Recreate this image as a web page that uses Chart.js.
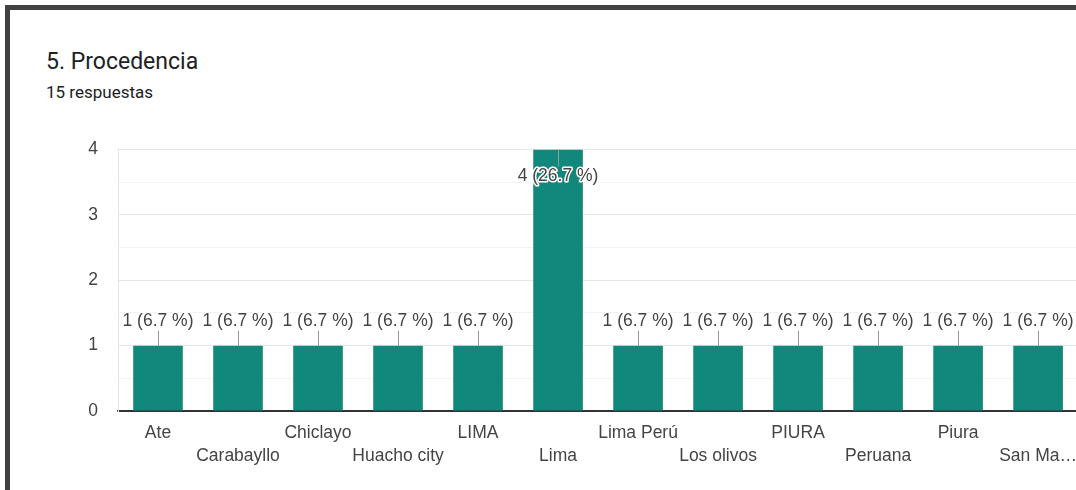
<!DOCTYPE html>
<html>
<head>
<meta charset="utf-8">
<script src="https://cdn.jsdelivr.net/npm/chart.js@4"></script>
<style>
  html, body { margin: 0; padding: 0; background: #fff; overflow: hidden; }
  .frame { position: absolute; left: 5px; top: 5px; width: 1200px; height: 600px; border: 5px solid #414141; box-sizing: border-box; }
  .title { position: absolute; left: 46px; top: 48px; font: 23px Roboto, sans-serif; color: #202124; }
  .sub { position: absolute; left: 46px; top: 82px; font: 17px Roboto, sans-serif; color: #202124; }
  .chart { position: absolute; left: 40px; top: 119px; width: 1048px; height: 371px; }
</style>
</head>
<body>
<div class="frame"></div>
<div class="title">5. Procedencia</div>
<div class="sub">15 respuestas</div>
<div class="chart"><canvas id="procedencia"></canvas></div>
<script>
const categorias = ['Ate', 'Carabayllo', 'Chiclayo', 'Huacho city', 'LIMA', 'Lima', 'Lima Perú', 'Los olivos', 'PIURA', 'Peruana', 'Piura', 'San Ma…'];
const respuestas = [1, 1, 1, 1, 1, 4, 1, 1, 1, 1, 1, 1];
const totalRespuestas = 15;
const yTicks = [0, 1, 2, 3, 4];

const fuente = '"Liberation Sans", Arial, sans-serif';

const etiquetas = {
  id: 'etiquetas',
  afterDatasetsDraw(chart) {
    const ctx = chart.ctx;
    const area = chart.chartArea;
    const meta = chart.getDatasetMeta(0);
    ctx.save();
    ctx.font = '17.5px ' + fuente;
    ctx.textAlign = 'center';
    ctx.textBaseline = 'middle';
    meta.data.forEach((bar, i) => {
      const v = respuestas[i];
      const pct = (v / totalRespuestas * 100).toFixed(1);
      const txt = v + ' (' + pct + ' %)';
      let ty, y1, y2;
      if (bar.y - 26 < area.top) {
        ty = bar.y + 27; y1 = bar.y; y2 = bar.y + 17;
      } else {
        ty = bar.y - 24; y1 = bar.y; y2 = bar.y - 15;
      }
      ctx.strokeStyle = '#999';
      ctx.lineWidth = 1;
      ctx.beginPath();
      ctx.moveTo(Math.round(bar.x) + 0.5, y1);
      ctx.lineTo(Math.round(bar.x) + 0.5, y2);
      ctx.stroke();
      ctx.lineWidth = 3;
      ctx.strokeStyle = '#fff';
      ctx.lineJoin = 'round';
      ctx.strokeText(txt, bar.x, ty);
      ctx.fillStyle = '#444';
      ctx.fillText(txt, bar.x, ty);
    });
    ctx.restore();
  }
};

new Chart(document.getElementById('procedencia').getContext('2d'), {
  type: 'bar',
  data: {
    labels: categorias,
    datasets: [{
      data: respuestas,
      backgroundColor: '#12877b',
      barPercentage: 0.62,
      categoryPercentage: 1
    }]
  },
  options: {
    responsive: true,
    maintainAspectRatio: false,
    animation: false,
    layout: { padding: { top: 10, right: 0, left: 0, bottom: 0 } },
    plugins: {
      legend: { display: false },
      tooltip: { enabled: false }
    },
    scales: {
      x: {
        grid: { display: false, drawTicks: false },
        border: { color: '#333', width: 1.5 },
        ticks: {
          padding: 11,
          autoSkip: false,
          maxRotation: 0,
          color: '#444',
          font: { family: fuente, size: 17.5, lineHeight: 1.3 },
          callback: (val, i) => i % 2 === 0 ? [categorias[i], ''] : ['', categorias[i]]
        },
        afterFit: s => { s.height = 79; }
      },
      y: {
        min: 0,
        max: 4,
        border: { color: '#e4e4e4' },
        grid: {
          drawTicks: false,
          color: c => c.tick.value === 0 ? '#333' : (Number.isInteger(c.tick.value) ? '#e6e6e6' : '#f3f3f3')
        },
        ticks: {
          stepSize: 0.5,
          padding: 20,
          color: '#444',
          font: { family: fuente, size: 17.5 },
          callback: v => yTicks.includes(v) ? v : ''
        },
        afterFit: s => { s.width = 78; }
      }
    }
  },
  plugins: [etiquetas]
});
</script>
</body>
</html>
